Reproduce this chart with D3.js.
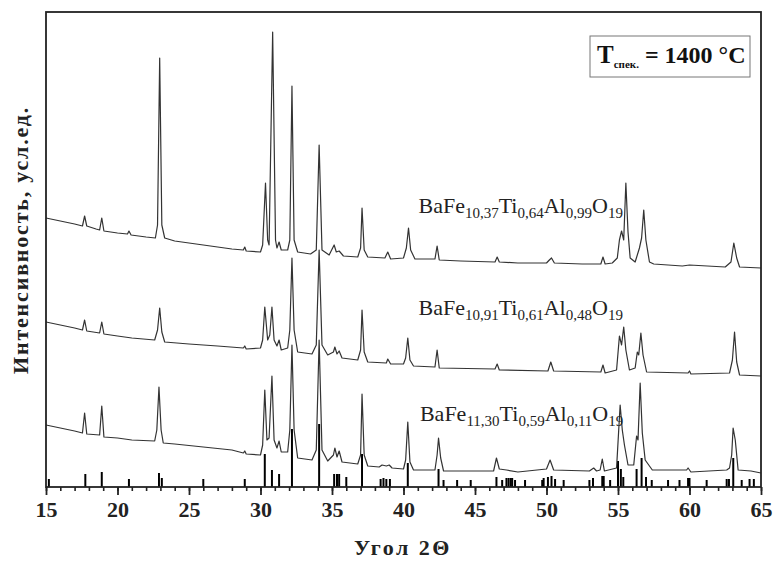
<!DOCTYPE html>
<html><head><meta charset="utf-8">
<script src="https://cdn.jsdelivr.net/npm/d3@7"></script>
<style>body{margin:0;background:#fff}svg{display:block}</style>
</head><body><svg id="c" width="776" height="561"></svg>
<script>
// Diffraction patterns: [2θ, intensity (arb. units)]
const topPattern = [
[15.0,269],[16.0,266],[17.0,263],[17.55,261],[17.7,271],[17.85,261],[18.5,258],[18.75,257],[18.9,269],[19.05,256],
[20.0,254],[20.7,253],[20.8,256],[20.95,252],[22.0,250],[22.65,249],[22.8,262],[22.95,429],[23.1,262],[23.3,249],
[24.0,246],[26.0,242],[28.0,238],[28.8,237],[28.9,240],[29.0,236],[30.0,235],[30.15,242],[30.35,304],[30.5,247],
[30.6,242],[30.85,455],[31.05,247],[31.15,239],[31.3,245],[31.45,237],[31.9,237],[32.05,247],[32.2,401],[32.35,247],
[32.6,235],[33.5,233],[33.9,237],[34.1,342],[34.3,237],[34.8,232],[35.15,242],[35.3,235],[35.5,236],[35.8,231],
[36.8,230],[37.0,239],[37.1,279],[37.25,237],[37.5,230],[38.7,229],[38.9,235],[39.1,228],[40.0,229],[40.2,239],
[40.35,259],[40.5,237],[40.8,228],[42.2,228],[42.35,241],[42.5,227],[44.0,226],[46.4,225],[46.55,230],[46.7,225],
[48.0,224],[50.0,224],[50.2,227],[50.35,229],[50.55,224],[52.5,223],[53.8,223],[53.95,230],[54.1,223],[54.6,224],
[54.95,229],[55.1,247],[55.25,256],[55.4,247],[55.55,304],[55.7,255],[55.85,229],[56.2,225],[56.5,239],[56.65,249],
[56.8,277],[56.95,247],[57.2,225],[57.5,223],[59.5,221],[60.0,222],[62.5,220],[62.9,225],[63.1,244],[63.3,229],
[63.5,220],[65.0,219]
];
const middlePattern = [
[15.0,165],[16.0,162],[17.0,159],[17.55,157],[17.7,167],[17.85,156],[18.75,154],[18.9,165],[19.05,153],[20.0,151],
[21.0,149],[22.6,147],[22.8,157],[22.95,179],[23.1,155],[23.3,145],[25.0,143],[27.0,141],[28.8,139],[28.9,141],
[29.0,138],[30.0,139],[30.15,147],[30.3,180],[30.5,147],[30.65,152],[30.8,180],[30.95,147],[31.15,141],[31.3,147],
[31.45,137],[31.9,139],[32.05,157],[32.2,229],[32.35,157],[32.6,135],[33.6,133],[33.9,142],[34.1,237],[34.3,142],
[34.7,132],[35.1,135],[35.2,140],[35.35,133],[35.5,136],[35.7,129],[36.8,127],[37.0,137],[37.1,177],[37.25,135],
[37.5,125],[38.8,124],[38.9,128],[39.1,123],[40.0,123],[40.15,129],[40.3,149],[40.45,127],[40.7,121],[42.2,120],
[42.35,137],[42.5,119],[46.4,118],[46.55,123],[46.7,117],[50.1,116],[50.3,125],[50.5,116],[53.8,115],[53.95,122],
[54.1,114],[54.9,117],[55.1,151],[55.25,142],[55.4,160],[55.55,137],[55.8,117],[56.2,119],[56.35,135],[56.45,132],
[56.6,154],[56.75,132],[57.0,115],[59.9,114],[60.0,116],[60.1,113],[62.8,114],[63.0,127],[63.15,155],[63.3,125],
[63.5,112],[65.0,111]
];
const bottomPattern = [
[15.0,62],[16.0,59],[17.0,56],[17.55,54],[17.7,74],[17.85,53],[18.75,52],[18.9,81],[19.05,50],[20.0,49],
[21.0,47],[22.6,46],[22.75,57],[22.9,100],[23.05,57],[23.2,44],[24.0,43],[26.0,40],[28.0,37],[28.8,34],
[28.9,36],[29.0,33],[30.0,32],[30.15,42],[30.3,97],[30.45,47],[30.6,49],[30.8,111],[30.95,47],[31.15,39],
[31.3,46],[31.45,35],[31.9,35],[32.05,57],[32.2,142],[32.35,57],[32.6,29],[33.6,27],[33.9,37],[34.1,147],
[34.3,37],[34.7,26],[35.1,32],[35.2,39],[35.35,30],[35.5,36],[35.7,25],[36.8,23],[37.0,32],[37.1,93],
[37.25,32],[37.5,21],[38.3,20],[38.5,22],[38.8,21],[39.0,22],[39.2,19],[40.0,18],[40.15,27],[40.3,65],
[40.45,25],[40.7,17],[42.2,17],[42.35,32],[42.45,49],[42.6,29],[42.8,16],[46.3,16],[46.5,29],[46.7,18],
[47.2,17],[48.0,15],[50.0,18],[50.25,27],[50.5,17],[53.0,16],[53.3,19],[53.5,16],[53.75,17],[53.9,28],
[54.05,16],[54.9,19],[55.05,57],[55.15,82],[55.3,57],[55.45,42],[55.7,22],[56.1,22],[56.3,51],[56.4,47],
[56.55,104],[56.7,54],[56.9,27],[57.2,21],[57.4,17],[58.5,17],[59.8,17],[59.9,19],[60.1,15],[62.6,17],
[62.8,19],[62.95,32],[63.05,59],[63.2,47],[63.4,17],[64.3,16],[65.0,14]
];
// Reference (stick) pattern
const stickAngles  = [15.2,17.75,18.9,20.8,22.9,23.1,26.0,28.9,30.3,30.8,31.3,32.2,34.1,35.15,35.35,35.5,36.0,37.1,38.4,38.6,38.8,39.05,40.3,42.45,42.8,43.75,44.7,46.5,46.9,47.2,47.35,47.5,47.6,47.8,48.5,49.7,49.8,50.1,50.35,50.6,51.2,53.0,53.25,53.9,54.0,54.45,55.0,55.2,55.37,56.3,56.65,56.96,57.36,58.5,59.3,59.9,60.0,61.2,62.6,62.76,63.06,63.65,64.2,64.5];
const stickHeights = [8,13,15,8,14,9,8,8,33,17,13,58,63,13,13,13,10,33,8,9,8,8,24,18,7,7,7,10,7,9,9,9,9,7,7,7,9,10,11,8,7,7,9,11,11,7,26,18,10,18,29,10,7,7,7,9,9,7,8,8,29,7,8,8];
const xTicks = [15,20,25,30,35,40,45,50,55,60,65];
const seriesLabels = [
  [["BaFe",""],["10,37","s"],["Ti",""],["0,64","s"],["Al",""],["0,99","s"],["O",""],["19","s"]],
  [["BaFe",""],["10,91","s"],["Ti",""],["0,61","s"],["Al",""],["0,48","s"],["O",""],["19","s"]],
  [["BaFe",""],["11,30","s"],["Ti",""],["0,59","s"],["Al",""],["0,11","s"],["O",""],["19","s"]]
];
const labelAnchors = [[41.05, 274], [41.05, 172], [41.15, 66]]; // [2θ, intensity] of label baseline start

const svg = d3.select("#c");
const x = d3.scaleLinear().domain([15,65]).range([46,761]);
const y = d3.scaleLinear().domain([0,475]).range([487,12]);
const serif = "'Liberation Serif','Times New Roman',serif";

// sticks
svg.append("g").selectAll("line").data(stickAngles).join("line")
  .attr("x1", d=>x(d)).attr("x2", d=>x(d))
  .attr("y1", y(0)).attr("y2", (d,i)=>y(stickHeights[i]))
  .attr("stroke","#000").attr("stroke-width",2);

// patterns
const line = d3.line().x(d=>x(d[0])).y(d=>y(d[1]));
[topPattern, middlePattern, bottomPattern].forEach(p=>{
  svg.append("path").datum(p).attr("d", line).attr("fill","none")
    .attr("stroke","#333").attr("stroke-width",1.2).attr("stroke-linejoin","round");
});

// frame
svg.append("rect").attr("x",x(15)).attr("y",y(475)).attr("width",x(65)-x(15)).attr("height",y(0)-y(475))
  .attr("fill","none").attr("stroke","#222").attr("stroke-width",1.8);

// axes
const minor = d3.range(15,65.5,1);
svg.append("g").attr("transform",`translate(0,${y(0)})`)
  .call(d3.axisBottom(x).tickValues(minor).tickSize(4).tickFormat(""))
  .call(g=>{g.select(".domain").remove(); g.selectAll("line").attr("stroke","#222").attr("stroke-width",1.6);});
const ax = svg.append("g").attr("transform",`translate(0,${y(0)})`)
  .call(d3.axisBottom(x).tickValues(xTicks).tickSize(8).tickPadding(6).tickFormat(d3.format("d")))
  .call(g=>{g.select(".domain").remove(); g.selectAll("line").attr("stroke","#222").attr("stroke-width",1.8);});
ax.selectAll("text").attr("font-family",serif).attr("font-weight","bold").attr("font-size",22).attr("fill","#222");

// axis titles
svg.append("text").attr("x",403).attr("y",555).attr("text-anchor","middle")
  .attr("font-family",serif).attr("font-weight","bold").attr("font-size",22).attr("letter-spacing",2.5).attr("fill","#222").text("Угол 2Θ");
svg.append("text").attr("transform","translate(28,240) rotate(-90)").attr("text-anchor","middle")
  .attr("font-family",serif).attr("font-weight","bold").attr("font-size",22).attr("letter-spacing",1.8).attr("fill","#222").text("Интенсивность, усл.ед.");

// series labels
seriesLabels.forEach((parts,i)=>{
  const t = svg.append("text").attr("x",x(labelAnchors[i][0])).attr("y",y(labelAnchors[i][1]))
    .attr("font-family",serif).attr("font-size",22).attr("fill","#222");
  let sub=false;
  parts.forEach(([s,k])=>{
    const ts = t.append("tspan").text(s);
    if(k==="s" && !sub){ ts.attr("dy",5).attr("font-size",15); sub=true; }
    else if(k==="s"){ ts.attr("font-size",15); }
    else if(sub){ ts.attr("dy",-5); sub=false; }
  });
});

// legend box
svg.append("rect").attr("x",590).attr("y",36).attr("width",160).attr("height",41)
  .attr("fill","#fff").attr("stroke","#777").attr("stroke-width",1);
const lt = svg.append("text").attr("x",597).attr("y",63).attr("font-family",serif).attr("font-weight","bold").attr("fill","#111");
lt.append("tspan").attr("font-size",25).text("T");
lt.append("tspan").attr("font-size",11).attr("dy",5).text("спек.");
lt.append("tspan").attr("font-size",24).attr("dy",-5).text(" = 1400 °C");
</script></body></html>
